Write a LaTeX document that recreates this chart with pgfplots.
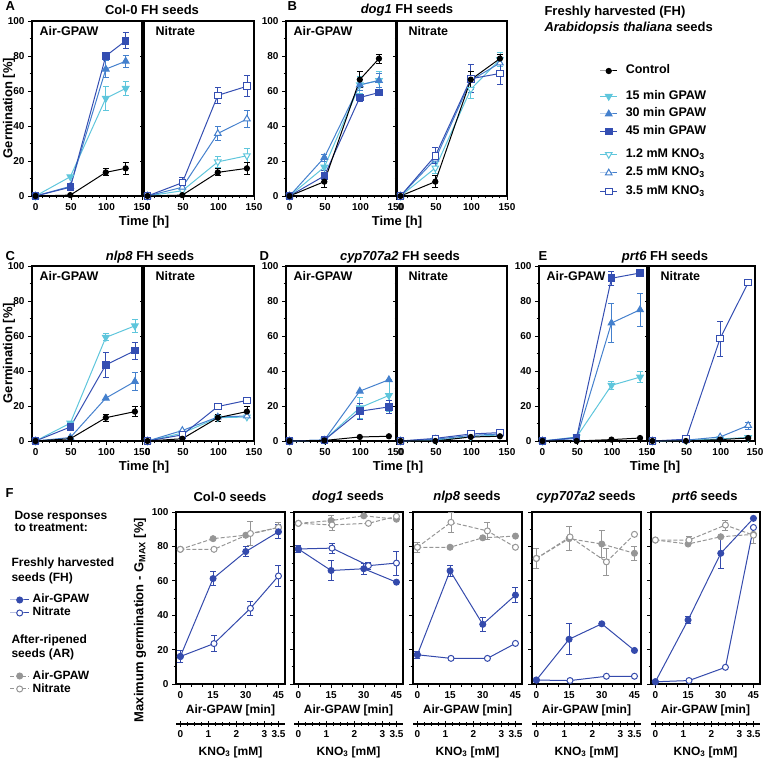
\documentclass[border=0pt]{standalone}
\usepackage{pgfplots}
\pgfplotsset{compat=1.18}
\usepackage{fontspec}
\setmainfont{Liberation Sans}
\definecolor{cA}{RGB}{95,198,220}
\definecolor{cB}{RGB}{68,128,205}
\definecolor{cC}{RGB}{52,78,178}
\definecolor{fb}{RGB}{52,74,172}
\definecolor{gr}{RGB}{150,150,150}
\newcommand{\fs}[1]{\fontsize{#1}{#1}\selectfont\bfseries}
\pgfplotsset{
  base/.style={scale only axis, clip=false,
    axis line style={line width=1.2pt},
    tick style={line width=0.9pt, black},
    tick align=outside, tick pos=left,
    major tick length=4pt, minor tick length=2.5pt,
    /pgf/number format/assume math mode=true,
    ticklabel style={font=\fs{10}}},
  tp/.style={base, width=110pt, height=175pt, xmin=-5, xmax=150, ymin=0, ymax=100,
    xtick={0,50,100,150}, minor x tick num=4, ytick={0,20,40,60,80,100}, minor y tick num=1},
  tpr/.style={tp, yticklabels={}},
  fp/.style={base, width=109pt, height=172pt, xmin=-2, xmax=48, ymin=0, ymax=100,
    xtick={0,15,30,45}, minor x tick num=2, ytick={0,20,40,60,80,100}, minor y tick num=1},
  fpr/.style={fp, yticklabels={}},
  kp/.style={scale only axis, width=109pt, height=10pt, xmin=-2, xmax=48, ymin=0, ymax=1,
    axis x line*=bottom, axis y line=none, axis line style={line width=1.2pt},
    tick style={line width=0.9pt, black}, tick align=center,
    major tick length=6pt, minor tick length=4pt,
    xtick={0,12.857,25.714,38.571,45}, xticklabels={0,1,2,3,3.5},
    minor xtick={3.214,6.429,9.643,16.071,19.286,22.5,28.929,32.143,35.357,41.786},
    ticklabel style={font=\fs{10}}},
  eb/.style={error bars/.cd, y dir=both, y explicit,
    error bar style={line width=0.8pt, solid},
    error mark options={rotate=90, mark size=3pt, line width=0.8pt, solid}, /pgfplots/.cd},
  mctrl/.style={black, mark=*, mark size=2.6pt, line width=1pt},
  m15/.style={cA, mark=triangle*, mark size=3.8pt, mark options={rotate=180}, line width=1pt},
  m30/.style={cB, mark=triangle*, mark size=3.8pt, line width=1pt},
  m45/.style={cC, mark=square*, mark size=3.3pt, line width=1pt},
  n12/.style={cA, mark=triangle*, mark size=3.8pt, mark options={rotate=180, fill=white}, line width=1pt},
  n25/.style={cB, mark=triangle*, mark size=3.8pt, mark options={fill=white}, line width=1pt},
  n35/.style={cC, mark=square*, mark size=3.3pt, mark options={fill=white}, line width=1pt},
  fair/.style={fb, mark=*, mark size=3pt, line width=1pt},
  fnit/.style={fb, mark=*, mark size=3pt, mark options={fill=white}, line width=1pt},
  aair/.style={gr, mark=*, mark size=3pt, line width=1pt, dash pattern=on 4pt off 2pt, mark options={solid}},
  anit/.style={gr, mark=*, mark size=3pt, line width=1pt, dash pattern=on 4pt off 2pt, mark options={solid, fill=white}},
  legax/.style={hide axis, scale only axis, width=1pt, height=1pt, xmin=0, xmax=1, ymin=0, ymax=1, anchor=center,
    legend cell align=left},
}
\newcommand{\E}[2]{\addplot[forget plot, #1, only marks, mark=none, eb] coordinates {#2};}
\newcommand{\PL}[2]{\node[anchor=north west, font=\fs{12.5}, xshift=#2, yshift=-2pt] at (rel axis cs:0,1) {#1};}
\begin{document}
\begin{tikzpicture}
\path[use as bounding box] (0pt,0pt) rectangle (765pt,760pt);

% ================= A: Col-0 =================
\begin{axis}[tp, at={(32pt,564pt)}]
\E{cA}{(99,55.8) +- (0,7) (127,61.5) +- (0,4)}
\E{cB}{(99,72.5) +- (0,5) (127,77) +- (0,3.5)}
\E{cC}{(99,80) +- (0,1.5) (127,88.7) +- (0,4.5)}
\E{black}{(99,13.5) +- (0,2) (127,15.8) +- (0,3.5)}
\addplot[m15] coordinates {(0,0) (49,11) (99,55.8) (127,61.5)};
\addplot[m30] coordinates {(0,0) (49,5.5) (99,72.5) (127,77)};
\addplot[m45] coordinates {(0,0) (49,5) (99,80) (127,88.7)};
\addplot[mctrl] coordinates {(0,0) (49,0.5) (99,13.5) (127,15.8)};
\PL{Air-GPAW}{4pt}
\end{axis}
\begin{axis}[tpr, at={(144pt,564pt)}]
\E{cA}{(99,19.5) +- (0,3) (140,23) +- (0,4)}
\E{cB}{(99,35.7) +- (0,4) (140,44) +- (0,5)}
\E{cC}{(49,7.6) +- (0,3) (99,57.5) +- (0,4.5) (140,62.7) +- (0,6)}
\E{black}{(99,13.5) +- (0,2) (140,15.8) +- (0,3.5)}
\addplot[n12] coordinates {(0,0) (49,3) (99,19.5) (140,23)};
\addplot[n25] coordinates {(0,0) (49,5) (99,35.7) (140,44)};
\addplot[n35] coordinates {(0,0) (49,7.6) (99,57.5) (140,62.7)};
\addplot[mctrl] coordinates {(0,0) (49,0.5) (99,13.5) (140,15.8)};
\PL{Nitrate}{8pt}
\end{axis}

% ================= B: dog1 =================
\begin{axis}[tp, at={(286pt,564pt)}]
\E{cA}{(49,16.5) +- (0,3) (99,63.5) +- (0,5) (126,66) +- (0,5)}
\E{cB}{(49,22) +- (0,2) (99,63.5) +- (0,3) (126,66) +- (0,4)}
\E{cC}{(49,11.5) +- (0,3) (99,56.3) +- (0,2) (126,59.1) +- (0,1)}
\E{black}{(49,8.2) +- (0,3.5) (99,66.5) +- (0,4.5) (126,78.5) +- (0,2.5)}
\addplot[m15] coordinates {(0,0) (49,16.5) (99,63.5) (126,66)};
\addplot[m30] coordinates {(0,0) (49,22) (99,63.5) (126,66)};
\addplot[m45] coordinates {(0,0) (49,11.5) (99,56.3) (126,59.1)};
\addplot[mctrl] coordinates {(0,0) (49,8.2) (99,66.5) (126,78.5)};
\PL{Air-GPAW}{4pt}
\end{axis}
\begin{axis}[tpr, at={(397pt,564pt)}]
\E{cA}{(49,16) +- (0,3) (99,61) +- (0,5) (140,78) +- (0,4)}
\E{cB}{(49,21) +- (0,4) (99,66) +- (0,5) (140,76) +- (0,5)}
\E{cC}{(49,23) +- (0,4.5) (99,67) +- (0,8) (140,70) +- (0,6)}
\E{black}{(49,8.2) +- (0,3.5) (99,66.5) +- (0,4.5) (140,78.5) +- (0,2.5)}
\addplot[n12] coordinates {(0,0) (49,16) (99,61) (140,78)};
\addplot[n25] coordinates {(0,0) (49,21) (99,66) (140,76)};
\addplot[n35] coordinates {(0,0) (49,23) (99,67) (140,70)};
\addplot[mctrl] coordinates {(0,0) (49,8.2) (99,66.5) (140,78.5)};
\PL{Nitrate}{8pt}
\end{axis}

% ================= C: nlp8 =================
\begin{axis}[tp, at={(32pt,319pt)}]
\E{cA}{(99,59.2) +- (0,2) (140,65.8) +- (0,3.5)}
\E{cB}{(140,34) +- (0,5)}
\E{cC}{(99,43.5) +- (0,7) (140,51.6) +- (0,5)}
\E{black}{(99,13.3) +- (0,2) (140,16.8) +- (0,3)}
\addplot[m15] coordinates {(0,0) (49,10.2) (99,59.2) (140,65.8)};
\addplot[m30] coordinates {(0,0) (49,2) (99,24.5) (140,34)};
\addplot[m45] coordinates {(0,0) (49,8) (99,43.5) (140,51.6)};
\addplot[mctrl] coordinates {(0,0) (49,1.3) (99,13.3) (140,16.8)};
\PL{Air-GPAW}{4pt}
\end{axis}
\begin{axis}[tpr, at={(144pt,319pt)}]
\E{black}{(99,13.3) +- (0,2) (140,16.8) +- (0,3)}
\addplot[n12] coordinates {(0,0) (49,4.5) (99,13.3) (140,13.7)};
\addplot[n25] coordinates {(0,0) (49,6) (99,13.7) (140,14.3)};
\addplot[n35] coordinates {(0,0) (49,3.5) (99,19.7) (140,23.2)};
\addplot[mctrl] coordinates {(0,0) (49,1.3) (99,13.3) (140,16.8)};
\PL{Nitrate}{8pt}
\end{axis}

% ================= D: cyp707a2 =================
\begin{axis}[tp, at={(286pt,319pt)}]
\E{cA}{(99,19) +- (0,6) (140,26) +- (0,9)}
\E{cC}{(99,17) +- (0,4.5) (140,19.5) +- (0,3.5)}
\addplot[m15] coordinates {(0,0) (49,0.5) (99,19) (140,26)};
\addplot[m30] coordinates {(0,0) (49,0.5) (99,28.5) (140,35)};
\addplot[m45] coordinates {(0,0) (49,0.5) (99,17) (140,19.5)};
\addplot[mctrl] coordinates {(0,0) (49,0.3) (99,2.3) (140,2.7)};
\PL{Air-GPAW}{4pt}
\end{axis}
\begin{axis}[tpr, at={(397pt,319pt)}]
\addplot[n12] coordinates {(0,0) (49,0.5) (99,2.5) (140,3.5)};
\addplot[n25] coordinates {(0,0) (49,1) (99,3.2) (140,4)};
\addplot[n35] coordinates {(0,0) (49,1.5) (99,4) (140,4.8)};
\addplot[mctrl] coordinates {(0,0) (49,0) (99,2.3) (140,2.7)};
\PL{Nitrate}{8pt}
\end{axis}

% ================= E: prt6 =================
\begin{axis}[tp, width=108pt, at={(539pt,319pt)}]
\E{cA}{(99,31.8) +- (0,2.5) (140,36.5) +- (0,3)}
\E{cB}{(99,67.4) +- (0,11) (140,75) +- (0,9.5)}
\E{cC}{(99,93) +- (0,4) (140,96) +- (0,1)}
\addplot[m15] coordinates {(0,0) (49,2.3) (99,31.8) (140,36.5)};
\addplot[m30] coordinates {(0,0) (49,1.5) (99,67.4) (140,75)};
\addplot[m45] coordinates {(0,0) (49,2) (99,93) (140,96)};
\addplot[mctrl] coordinates {(0,0) (49,0) (99,0.8) (140,1.7)};
\PL{Air-GPAW}{4pt}
\end{axis}
\begin{axis}[tpr, width=106pt, at={(649pt,319pt)}]
\E{cB}{(140,8.9) +- (0,2)}
\E{cC}{(99,58.6) +- (0,10)}
\addplot[n12] coordinates {(0,0) (49,0.3) (99,1.2) (140,2)};
\addplot[n25] coordinates {(0,0) (49,0.5) (99,2.3) (140,8.9)};
\addplot[n35] coordinates {(0,0) (49,1) (99,58.6) (140,90.5)};
\addplot[mctrl] coordinates {(0,0) (49,0) (99,0.8) (140,1.7)};
\PL{Nitrate}{8pt}
\end{axis}

% ================= F panels =================
% Col-0
\begin{axis}[fp, at={(176pt,76pt)}]
\E{gr}{(45,91) +- (0,3)}
\E{gr}{(32.14,87.5) +- (0,7) (45,91) +- (0,3)}
\addplot[aair] coordinates {(0,78.3) (15,84.5) (30,86.5) (45,91)};
\addplot[anit] coordinates {(0,78.3) (15.43,78.3) (32.14,87.5) (45,91)};
\E{fb}{(0,16) +- (0,3.5) (15,61.3) +- (0,4) (30,77) +- (0,3) (45,88.5) +- (0,4)}
\E{fb}{(15.43,23.5) +- (0,4.5) (32.14,44) +- (0,4) (45,62.8) +- (0,6)}
\addplot[fnit] coordinates {(0,16) (15.43,23.5) (32.14,44) (45,62.8)};
\addplot[fair] coordinates {(0,16) (15,61.3) (30,77) (45,88.5)};
\end{axis}
% dog1
\begin{axis}[fpr, at={(294pt,76pt)}]
\E{gr}{(15,95) +- (0,3)}
\E{gr}{(15.43,92.5) +- (0,3)}
\addplot[aair] coordinates {(0,93.4) (15,95) (30,97.8) (45,95.8)};
\addplot[anit] coordinates {(0,93.4) (15.43,92.5) (32.14,93.4) (45,97.5)};
\E{fb}{(0,78.5) +- (0,2) (15,66) +- (0,6) (30,67) +- (0,3)}
\E{fb}{(15.43,79) +- (0,3) (32.14,68.8) +- (0,2) (45,70.3) +- (0,7)}
\addplot[fnit] coordinates {(0,78.5) (15.43,79) (32.14,68.8) (45,70.3)};
\addplot[fair] coordinates {(0,78.5) (15,66) (30,67) (45,59.2)};
\end{axis}
% nlp8
\begin{axis}[fpr, at={(413pt,76pt)}]
\E{gr}{(0,79.5) +- (0,3)}
\E{gr}{(15.43,94) +- (0,6) (32.14,89) +- (0,5)}
\addplot[aair] coordinates {(0,79.5) (15,79.5) (30,85) (45,86)};
\addplot[anit] coordinates {(0,79.5) (15.43,94) (32.14,89) (45,79.5)};
\E{fb}{(0,17) +- (0,2) (15,65.8) +- (0,3) (30,34.7) +- (0,4) (45,51.7) +- (0,4.5)}
\addplot[fnit] coordinates {(0,17) (15.43,14.9) (32.14,14.9) (45,23.6)};
\addplot[fair] coordinates {(0,17) (15,65.8) (30,34.7) (45,51.7)};
\end{axis}
% cyp707a2
\begin{axis}[fpr, at={(532pt,76pt)}]
\E{gr}{(0,73) +- (0,6) (15,84.5) +- (0,7) (30,81.4) +- (0,8) (45,76) +- (0,4)}
\E{gr}{(32.14,71) +- (0,8)}
\addplot[aair] coordinates {(0,73) (15,84.5) (30,81.4) (45,76)};
\addplot[anit] coordinates {(0,73) (15.43,85.5) (32.14,71) (45,87)};
\E{fb}{(15,26) +- (0,9)}
\addplot[fnit] coordinates {(0,2.3) (15.43,2) (32.14,4.5) (45,4.5)};
\addplot[fair] coordinates {(0,2.3) (15,26) (30,35) (45,19.5)};
\end{axis}
% prt6
\begin{axis}[fpr, at={(651pt,76pt)}]
\E{gr}{(15.43,83.7) +- (0,2) (32.14,92.4) +- (0,3) (45,86.5) +- (0,5)}
\addplot[aair] coordinates {(0,83.7) (15,81.4) (30,85.6) (45,87)};
\addplot[anit] coordinates {(0,83.7) (15.43,83.7) (32.14,92.4) (45,86.5)};
\E{fb}{(15,37.2) +- (0,2) (30,76) +- (0,9)}
\addplot[fnit] coordinates {(0,1.3) (15.43,2) (32.14,9.7) (45,91)};
\addplot[fair] coordinates {(0,1.3) (15,37.2) (30,76) (45,96.3)};
\end{axis}

% KNO3 axes
\begin{axis}[kp, at={(176pt,36pt)}] \end{axis}
\begin{axis}[kp, at={(294pt,36pt)}] \end{axis}
\begin{axis}[kp, at={(413pt,36pt)}] \end{axis}
\begin{axis}[kp, at={(532pt,36pt)}] \end{axis}
\begin{axis}[kp, at={(651pt,36pt)}] \end{axis}

% ===== Legends =====
\begin{axis}[legax, at={(600pt,689pt)},
  legend style={at={(0,0.5)}, anchor=west, draw=none, fill=none, inner sep=0pt, font=\fs{12.5},
    nodes={inner sep=0pt, text height=9pt, text depth=3pt}, row sep=5.8pt,
    /tikz/every odd column/.append style={column sep=8pt}}]
\addlegendimage{mctrl}\addlegendentry{Control}
\end{axis}
\begin{axis}[legax, at={(600pt,646pt)},
  legend style={at={(0,0.5)}, anchor=west, draw=none, fill=none, inner sep=0pt, font=\fs{12.5},
    nodes={inner sep=0pt, text height=9pt, text depth=3pt}, row sep=5.6pt,
    /tikz/every odd column/.append style={column sep=8pt}}]
\addlegendimage{m15}\addlegendentry{15 min GPAW}
\addlegendimage{m30}\addlegendentry{30 min GPAW}
\addlegendimage{m45}\addlegendentry{45 min GPAW}
\end{axis}
\begin{axis}[legax, at={(600pt,587pt)},
  legend style={at={(0,0.5)}, anchor=west, draw=none, fill=none, inner sep=0pt, font=\fs{12.5},
    nodes={inner sep=0pt, text height=9pt, text depth=3pt}, row sep=6.5pt,
    /tikz/every odd column/.append style={column sep=8pt}}]
\addlegendimage{n12}\addlegendentry{1.2 mM KNO\textsubscript{3}}
\addlegendimage{n25}\addlegendentry{2.5 mM KNO\textsubscript{3}}
\addlegendimage{n35}\addlegendentry{3.5 mM KNO\textsubscript{3}}
\end{axis}
\begin{axis}[legax, at={(10pt,153.5pt)},
  legend image code/.code={\draw[mark repeat=2,mark phase=2] plot coordinates {(0pt,0pt) (9.5pt,0pt) (19pt,0pt)};},
  legend style={at={(0,0.5)}, anchor=west, draw=none, fill=none, inner sep=0pt, font=\fs{12},
    nodes={inner sep=0pt, text height=8.5pt, text depth=2.5pt}, row sep=2pt,
    /tikz/every odd column/.append style={column sep=3pt}}]
\addlegendimage{fair}\addlegendentry{Air-GPAW}
\addlegendimage{fnit}\addlegendentry{Nitrate}
\end{axis}
\begin{axis}[legax, at={(10pt,77.5pt)},
  legend image code/.code={\draw[mark repeat=2,mark phase=2] plot coordinates {(0pt,0pt) (9.5pt,0pt) (19pt,0pt)};},
  legend style={at={(0,0.5)}, anchor=west, draw=none, fill=none, inner sep=0pt, font=\fs{12},
    nodes={inner sep=0pt, text height=8.5pt, text depth=2.5pt}, row sep=2pt,
    /tikz/every odd column/.append style={column sep=3pt}}]
\addlegendimage{aair}\addlegendentry{Air-GPAW}
\addlegendimage{anit}\addlegendentry{Nitrate}
\end{axis}

% ===== Texts =====
\begin{scope}[x=1pt, y=1pt, every node/.style={font=\fs{13}}]
\node[anchor=west] at (2,754) {A};
\node at (152,750) {Col-0 FH seeds};
\node[anchor=west] at (284,754) {B};
\node at (407,750) {\textit{dog1} FH seeds};
\node[anchor=west] at (2,504) {C};
\node at (150,503) {\textit{nlp8} FH seeds};
\node[anchor=west] at (256,504) {D};
\node at (400,503) {\textit{cyp707a2} FH seeds};
\node[anchor=west] at (535,504) {E};
\node at (665,503) {\textit{prt6} FH seeds};
\node[anchor=west] at (2,267) {F};
\node at (230,263) {Col-0 seeds};
\node at (348,263) {\textit{dog1} seeds};
\node at (467,263) {\textit{nlp8} seeds};
\node at (586,263) {\textit{cyp707a2} seeds};
\node at (705,263) {\textit{prt6} seeds};
\node at (144,538) {Time [h]};
\node at (397,538) {Time [h]};
\node at (144,293) {Time [h]};
\node at (398,293) {Time [h]};
\node at (655,293) {Time [h]};
\node[rotate=90] at (9,652) {Germination [\%]};
\node[rotate=90] at (9,407) {Germination [\%]};
\node[rotate=90] at (140,140) {Maximum germination - G\textsubscript{MAX} [\%]};
\node[anchor=west] at (541,748) {Freshly harvested (FH)};
\node[anchor=west] at (541,732) {\textit{Arabidopsis thaliana} seeds};
\end{scope}
\begin{scope}[x=1pt, y=1pt, every node/.style={font=\fs{12}, anchor=west}]
\node at (11,243) {Dose responses};
\node at (11,232) {to treatment:};
\node at (8,197) {Freshly harvested};
\node at (8,182) {seeds (FH)};
\node at (8,120) {After-ripened};
\node at (8,106) {seeds (AR)};
\end{scope}
\begin{scope}[x=1pt, y=1pt, every node/.style={font=\fs{12}}]
\foreach \cx in {230.5,348.5,467.5,586.5,705.5} {
  \node at (\cx,50) {Air-GPAW [min]};
  \node at (\cx,8) {KNO\textsubscript{3} [mM]};
}
\end{scope}
\end{tikzpicture}
\end{document}
